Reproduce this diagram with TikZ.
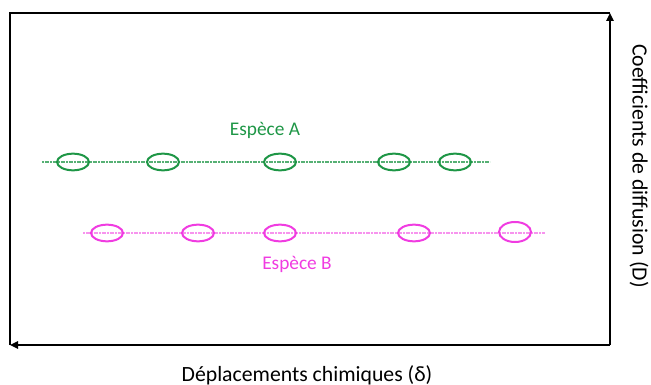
\documentclass[tikz,border=0pt]{standalone}
\usepackage{fontspec}
\setmainfont{Carlito}
\usetikzlibrary{arrows.meta,shapes.geometric}
\definecolor{grn}{RGB}{30,150,70}
\definecolor{mag}{RGB}{240,60,225}
\tikzset{
  spot/.style={draw, ellipse, line width=1.5pt, minimum width=24pt, minimum height=12.5pt, inner sep=0pt},
  aspot/.style={spot, draw=grn},
  bspot/.style={spot, draw=mag},
  guide/.style={line width=0.8pt, dash pattern=on 1.6pt off 0.4pt},
  axis/.style={line width=1.3pt, -{Triangle[length=6pt,width=5.5pt]}},
  frame/.style={line width=1.1pt},
  lbl/.style={font=\fontsize{14.5}{16}\selectfont, inner sep=0pt},
  axlbl/.style={font=\fontsize{16.3}{18}\selectfont, inner sep=0pt}
}
\begin{document}
\begin{tikzpicture}[x=0.75pt,y=-0.75pt]
\useasboundingbox (0,0) rectangle (651,385);
% frame
\coordinate (TL) at (10,13);
\coordinate (TR) at (610,13);
\coordinate (BL) at (10,345);
\coordinate (BR) at (610,345);
\draw[frame] (BL) -- (TL) -- (TR);
\draw[axis] (BR) -- (TR);
\draw[axis] (BR) -- (BL);
% guides
\coordinate (ga1) at (42,162);
\coordinate (ga2) at (490,162);
\coordinate (gb1) at (83,233);
\coordinate (gb2) at (545,233);
\draw[guide, grn!75] (ga1) -- (ga2);
\draw[guide, mag!55] (gb1) -- (gb2);
% species A
\node[aspot] (a1) at (73,162) {};
\node[aspot] (a2) at (163,162) {};
\node[aspot] (a3) at (280,162) {};
\node[aspot] (a4) at (394,162) {};
\node[aspot] (a5) at (455,162) {};
% species B
\node[bspot] (b1) at (107,233) {};
\node[bspot] (b2) at (198,233) {};
\node[bspot] (b3) at (280,233) {};
\node[bspot] (b4) at (414,233) {};
\node[bspot, minimum height=15pt] (b5) at (515,232) {};
% labels
\node[lbl, text=grn] (la) at (265,130) {Espèce A};
\node[lbl, text=mag] (lb) at (297,264) {Espèce B};
\node[axlbl] (lx) at (307,375) {Déplacements chimiques (δ)};
\node[axlbl, rotate=-90] (ly) at (639,166) {Coefficients de diffusion (D)};
\end{tikzpicture}
\end{document}
